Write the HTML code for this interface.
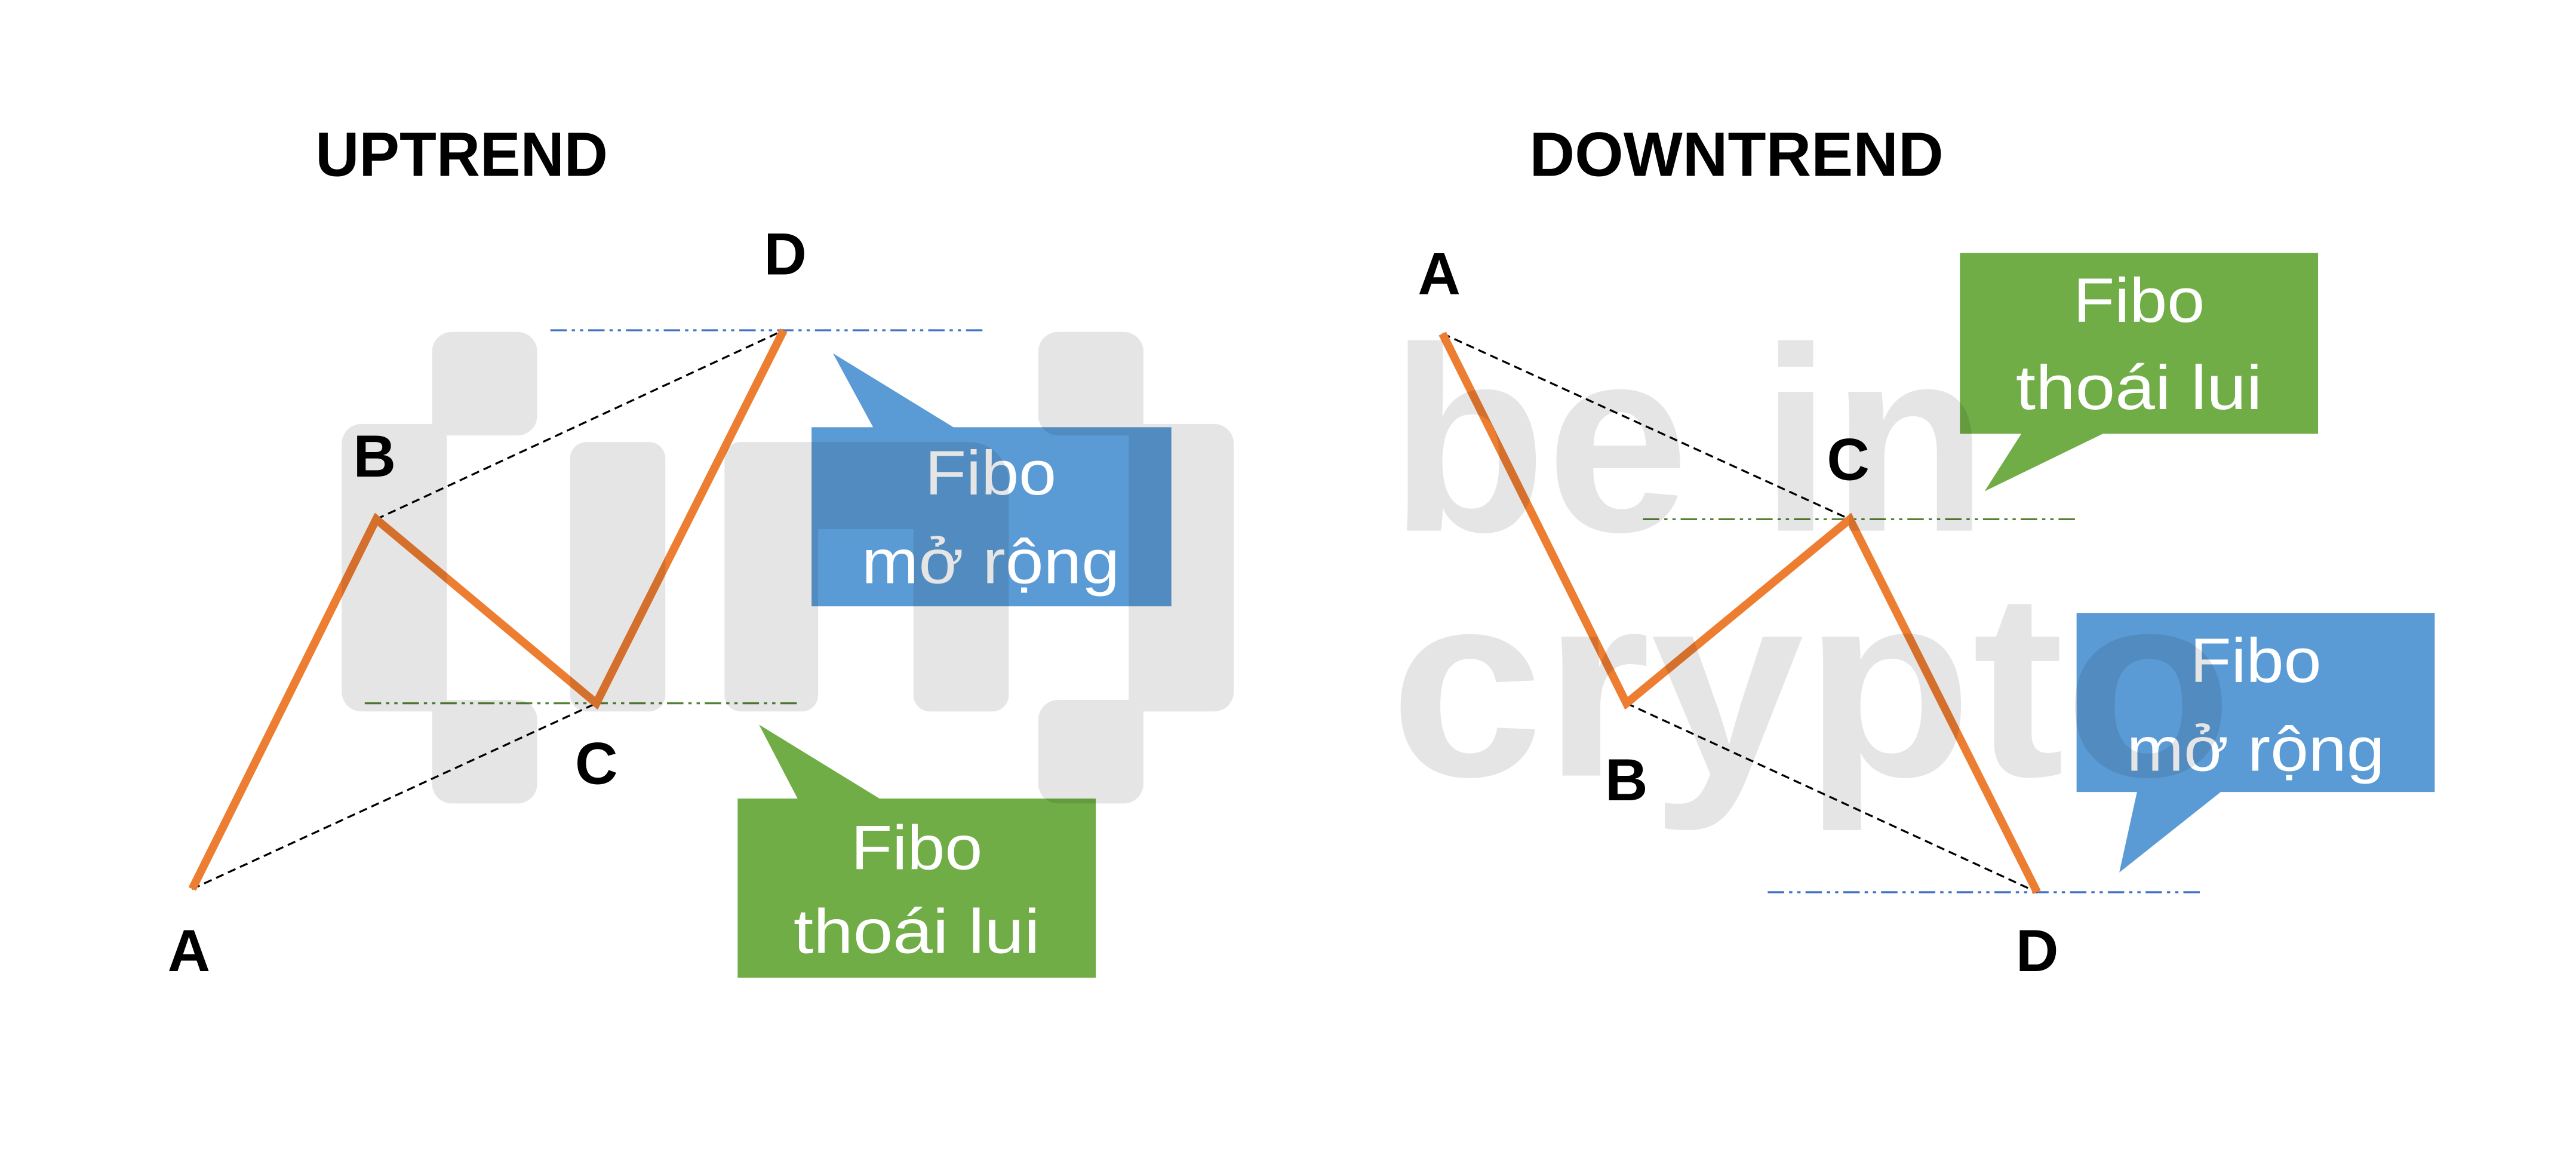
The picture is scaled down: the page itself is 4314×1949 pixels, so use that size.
<!DOCTYPE html>
<html><head><meta charset="utf-8"><style>
html,body{margin:0;padding:0;background:#fff;}
svg{display:block;}
text{font-family:"Liberation Sans",sans-serif;}
.lbl{font-weight:bold;font-size:36px;fill:#000;text-anchor:middle;}
.ttl{font-weight:bold;font-size:38px;fill:#000;}
.fb{font-size:38px;fill:#fff;text-anchor:middle;}
</style></head><body>
<svg width="4314" height="1949" viewBox="0 0 1568 708.4" preserveAspectRatio="none" xmlns="http://www.w3.org/2000/svg">
<rect width="1568" height="708.4" fill="#fff"/>
<!-- UPTREND -->
<text class="ttl" x="192" y="107" textLength="178" lengthAdjust="spacingAndGlyphs">UPTREND</text>
<line x1="335" y1="201" x2="598" y2="201" stroke="#4472C4" stroke-width="1.2" stroke-dasharray="10,3,2,3,2,3"/>
<line x1="222" y1="428" x2="487" y2="428" stroke="#548235" stroke-width="1.2" stroke-dasharray="10,3,2,3,2,3"/>
<line x1="229" y1="316" x2="477" y2="201" stroke="#000" stroke-width="1.2" stroke-dasharray="5,3"/>
<line x1="117" y1="541" x2="363" y2="428" stroke="#000" stroke-width="1.2" stroke-dasharray="5,3"/>
<polyline points="117,541 229,316 363,428 477,201" fill="none" stroke="#ED7D31" stroke-width="5" stroke-linejoin="miter"/>
<text class="lbl" x="478" y="167">D</text>
<text class="lbl" x="228" y="290">B</text>
<text class="lbl" x="363" y="477">C</text>
<text class="lbl" x="115" y="591">A</text>
<polygon points="507,215 532,261 582,261" fill="#5B9BD5"/>
<rect x="494" y="260" width="219" height="109" fill="#5B9BD5"/>
<text class="fb" x="603" y="301" textLength="80" lengthAdjust="spacingAndGlyphs">Fibo</text>
<text class="fb" x="603" y="355" textLength="157" lengthAdjust="spacingAndGlyphs">mở rộng</text>
<polygon points="462,441 486,487 537,487" fill="#70AD47"/>
<rect x="449" y="486" width="218" height="109" fill="#70AD47"/>
<text class="fb" x="558" y="529" textLength="80" lengthAdjust="spacingAndGlyphs">Fibo</text>
<text class="fb" x="558" y="580" textLength="150" lengthAdjust="spacingAndGlyphs">thoái lui</text>
<!-- DOWNTREND -->
<text class="ttl" x="931" y="107" textLength="252" lengthAdjust="spacingAndGlyphs">DOWNTREND</text>
<line x1="1000" y1="316" x2="1265" y2="316" stroke="#548235" stroke-width="1.2" stroke-dasharray="10,3,2,3,2,3"/>
<line x1="1076" y1="543" x2="1340" y2="543" stroke="#4472C4" stroke-width="1.2" stroke-dasharray="10,3,2,3,2,3"/>
<line x1="878" y1="203" x2="1126" y2="316" stroke="#000" stroke-width="1.2" stroke-dasharray="5,3"/>
<line x1="990" y1="428" x2="1240" y2="543" stroke="#000" stroke-width="1.2" stroke-dasharray="5,3"/>
<polyline points="878,203 990,428 1126,316 1240,543" fill="none" stroke="#ED7D31" stroke-width="5"/>
<text class="lbl" x="876" y="179">A</text>
<text class="lbl" x="1125" y="292">C</text>
<text class="lbl" x="990" y="487">B</text>
<text class="lbl" x="1240" y="591">D</text>
<polygon points="1208,299 1231,263 1282,263" fill="#70AD47"/>
<rect x="1193" y="154" width="218" height="110" fill="#70AD47"/>
<text class="fb" x="1302" y="196" textLength="80" lengthAdjust="spacingAndGlyphs">Fibo</text>
<text class="fb" x="1302" y="249" textLength="150" lengthAdjust="spacingAndGlyphs">thoái lui</text>
<polygon points="1290,531 1301,481 1353,481" fill="#5B9BD5"/>
<rect x="1264" y="373" width="218" height="109" fill="#5B9BD5"/>
<text class="fb" x="1373" y="415" textLength="80" lengthAdjust="spacingAndGlyphs">Fibo</text>
<text class="fb" x="1373" y="469" textLength="157" lengthAdjust="spacingAndGlyphs">mở rộng</text>
<!-- watermarks -->
<g fill="#000" fill-opacity="0.1">
<path d="M220,258 H263 V214 a12,12 0 0 1 12,-12 H315 a12,12 0 0 1 12,12 V253 a12,12 0 0 1 -12,12 H272 V426 H315 a12,12 0 0 1 12,12 V477 a12,12 0 0 1 -12,12 H275 a12,12 0 0 1 -12,-12 V433 H220 a12,12 0 0 1 -12,-12 V270 a12,12 0 0 1 12,-12 Z"/>
<rect x="347" y="269" width="58" height="164" rx="10"/>
<path d="M451,269 H590 a24,24 0 0 1 24,24 V423 a10,10 0 0 1 -10,10 H566 a10,10 0 0 1 -10,-10 V322 H498 V423 a10,10 0 0 1 -10,10 H451 a10,10 0 0 1 -10,-10 V279 a10,10 0 0 1 10,-10 Z"/>
<path d="M739,258 H696 V214 a12,12 0 0 0 -12,-12 H644 a12,12 0 0 0 -12,12 V253 a12,12 0 0 0 12,12 H687 V426 H644 a12,12 0 0 0 -12,12 V477 a12,12 0 0 0 12,12 H684 a12,12 0 0 0 12,-12 V433 H739 a12,12 0 0 0 12,-12 V270 a12,12 0 0 0 -12,-12 Z"/>
<text x="846" y="323" font-weight="bold" font-size="160" textLength="364" lengthAdjust="spacingAndGlyphs">be in</text>
<text x="846" y="472" font-weight="bold" font-size="160" textLength="513" lengthAdjust="spacingAndGlyphs">crypto</text>
</g>
</svg>
</body></html>
